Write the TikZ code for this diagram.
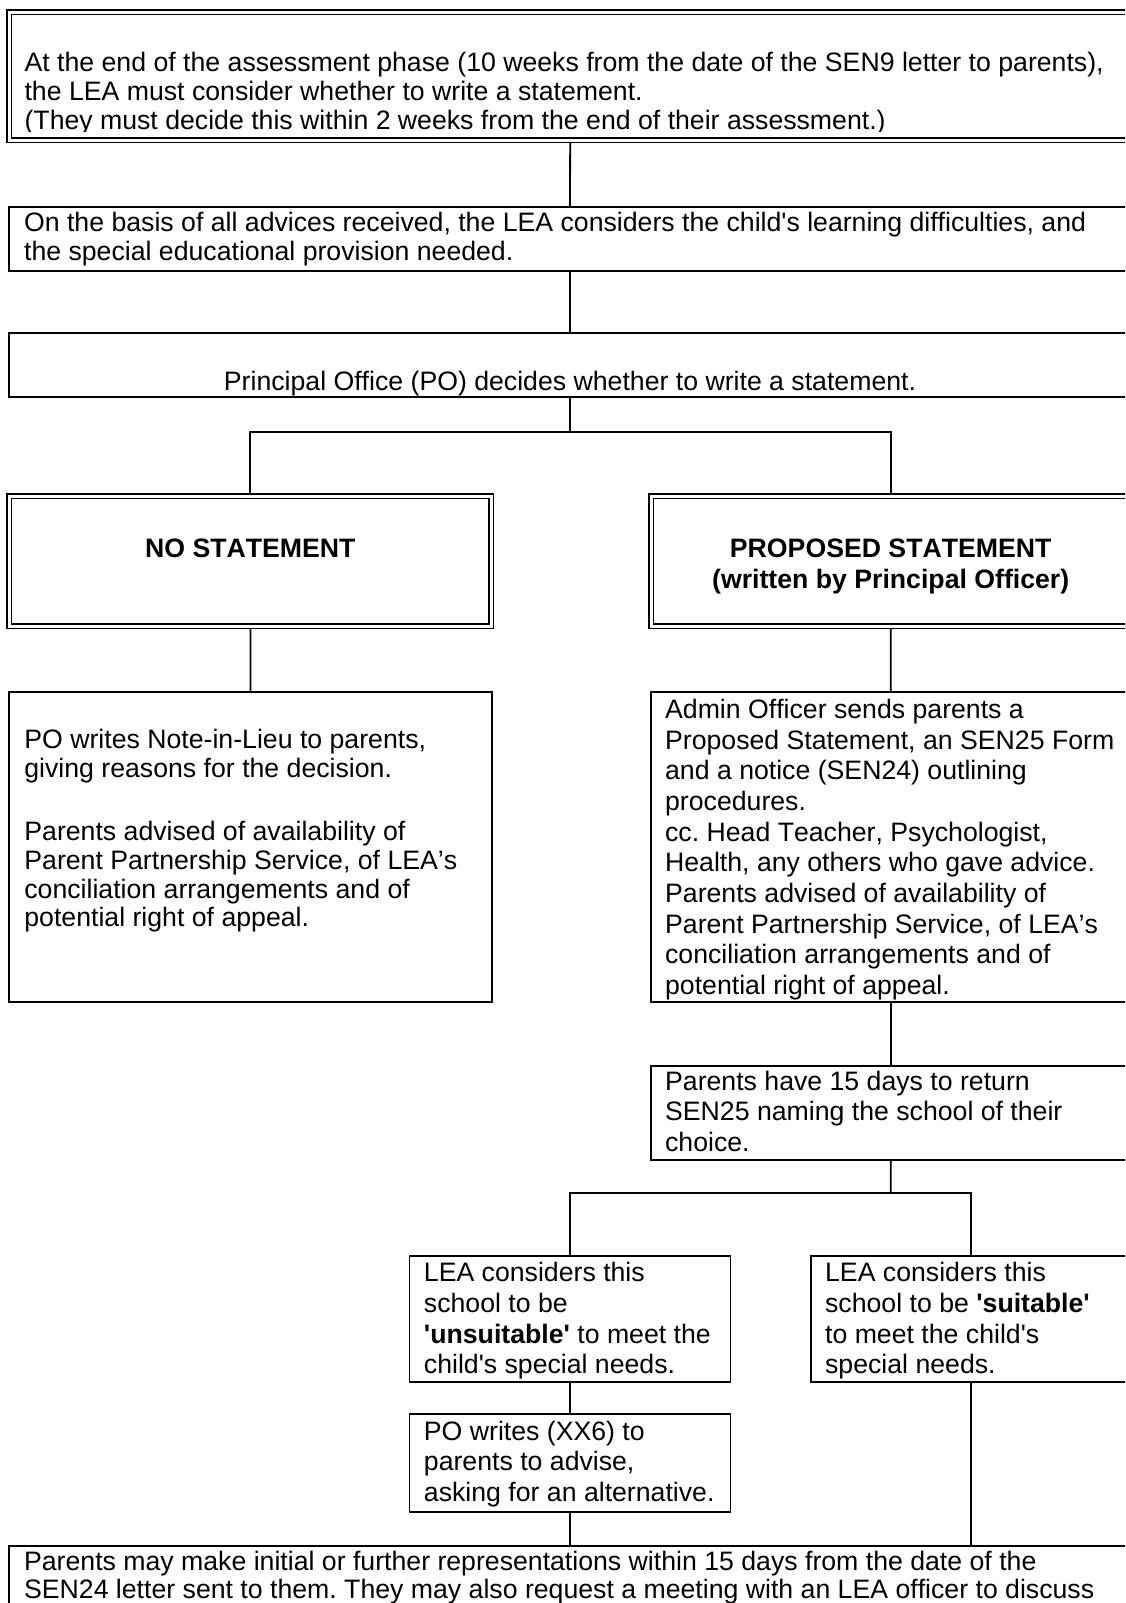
\documentclass[tikz,border=0pt]{standalone}
\usepackage{fontspec}
\setmainfont{Liberation Sans}[Kerning=Off,Ligatures={TeX,NoCommon}]
\usepackage{tikz}
\setlength{\parindent}{0pt}
\frenchspacing
\newcommand{\sq}{\textquotesingle}
\newcommand{\rows}[1]{\spaceskip=0pt\xspaceskip=0pt\begin{tabular}[t]{@{}l@{}}#1\end{tabular}}
\newcommand{\crows}[1]{\spaceskip=0pt\xspaceskip=0pt\begin{tabular}[t]{@{}c@{}}#1\end{tabular}}

\begin{document}
\begin{tikzpicture}[x=0.45pt,y=-0.45pt,
    box/.style={draw,line width=0.8pt,anchor=north west,inner xsep=6.8pt,inner ysep=0pt,outer sep=0pt,align=left,font=\fontsize{12}{12.9}\selectfont},
    widebox/.style={box,text width=491.3pt},
    sidebox/.style={box,inner xsep=6.5pt,font=\fontsize{12}{13.8}\selectfont},
    dblbox/.style={box,double,double distance=1.2pt,line width=0.75pt,outer sep=0.975pt,align=center,font=\fontsize{12}{13.8}\selectfont\bfseries},
    elbow/.style={to path={-| (\tikztotarget)}}]
  \useasboundingbox (0,0) rectangle (1125,1603);
  \clip (0,0) rectangle (1125,1603);

  \begin{scope}
    \clip (0,0) -- (1200,0) -- (1200,131.7) -- (12.8,131.7) -- (12.8,137.2) -- (1200,137.2) -- (1200,1603) -- (0,1603) -- cycle;
    \node[dblbox,align=left,font=\fontsize{12}{12.9}\selectfont,text width=491.1pt,text height=26.8pt,text depth=30.9pt] (intro) at (7.3,10) {\rows{At the end of the assessment phase (10 weeks from the date of the SEN9 letter to parents),\\the LEA must consider whether to write a statement.\\(They must decide this within 2 weeks from the end of their assessment.)}};
  \end{scope}

  \node[widebox,text height=11.25pt,text depth=17.55pt] (basis) at (9,206.7) {\rows{On the basis of all advices received, the LEA considers the child\sq s learning difficulties, and\\the special educational provision needed.}};
  \node[widebox,align=center,text height=25.8pt,text depth=3pt] (decide) at (9,333.3) {\crows{Principal Office (PO) decides whether to write a statement.}};

  \node[dblbox,text width=203.2pt,text height=27.6pt,text depth=30.9pt] (nostmt) at (7.3,494) {\crows{NO STATEMENT}};
  \node[dblbox,text width=201.7pt,text height=27.6pt,text depth=30.9pt] (propstmt) at (649.3,494) {\crows{PROPOSED STATEMENT\\(written by Principal Officer)}};

  \node[box,font=\fontsize{12}{12.95}\selectfont,text width=203.5pt,text height=25.5pt,text depth=114pt] (lieu) at (9.3,691.7) {\rows{PO writes Note-in-Lieu to parents,\\giving reasons for the decision.\\[15.6pt]Parents advised of availability of\\Parent Partnership Service, of LEA’s\\conciliation arrangements and of\\potential right of appeal.}};
  \node[sidebox,text width=203pt,text height=12pt,text depth=127.5pt] (admin) at (650.7,691.7) {\rows{Admin Officer sends parents a\\Proposed Statement, an SEN25 Form\\and a notice (SEN24) outlining\\procedures.\\cc. Head Teacher, Psychologist,\\Health, any others who gave advice.\\Parents advised of availability of\\Parent Partnership Service, of LEA’s\\conciliation arrangements and of\\potential right of appeal.}};
  \node[sidebox,text width=203pt,text height=10.8pt,text depth=31.5pt] (days) at (650.7,1066) {\rows{Parents have 15 days to return\\SEN25 naming the school of their\\choice.}};

  \node[sidebox,text width=131.45pt,text height=11.6pt,text depth=44.95pt] (unsuit) at (409.5,1256) {\rows{LEA considers this\\school to be\\\textbf{\sq unsuitable\sq} to meet the\\child\sq s special needs.}};
  \node[sidebox,text width=131.45pt,text height=11.6pt,text depth=44.95pt] (suit) at (810.7,1256) {\rows{LEA considers this\\school to be \textbf{\sq suitable\sq}\\to meet the child\sq s\\special needs.}};
  \node[sidebox,text width=131.45pt,text height=11.6pt,text depth=32.5pt] (advise) at (409.5,1414.3) {\rows{PO writes (XX6) to\\parents to advise,\\asking for an alternative.}};

  \node[widebox,text height=11pt,text depth=69pt] (reps) at (9,1545.7) {\rows{Parents may make initial or further representations within 15 days from the date of the\\SEN24 letter sent to them. They may also request a meeting with an LEA officer to discuss}};

  \coordinate (fork1) at (570,431.7);
  \coordinate (fork2) at (890.7,1193);

  \begin{scope}[every edge/.style={draw=black,line width=0.8pt}]
    \path (intro) edge (basis);
    \path (basis) edge (decide);
    \path (decide) edge (fork1);
    \path (fork1) edge[elbow] (nostmt);
    \path (fork1) edge[elbow] (propstmt);
    \path (nostmt) edge (lieu);
    \path (propstmt) edge (admin);
    \path (admin) edge (days);
    \path (days) edge (fork2);
    \path (fork2) edge[elbow] (unsuit);
    \path (fork2) edge[elbow] (suit);
    \path (unsuit) edge (advise);
    \path (advise) edge (reps);
    \path (suit) edge (suit.south |- reps.north);
  \end{scope}
\end{tikzpicture}
\end{document}
